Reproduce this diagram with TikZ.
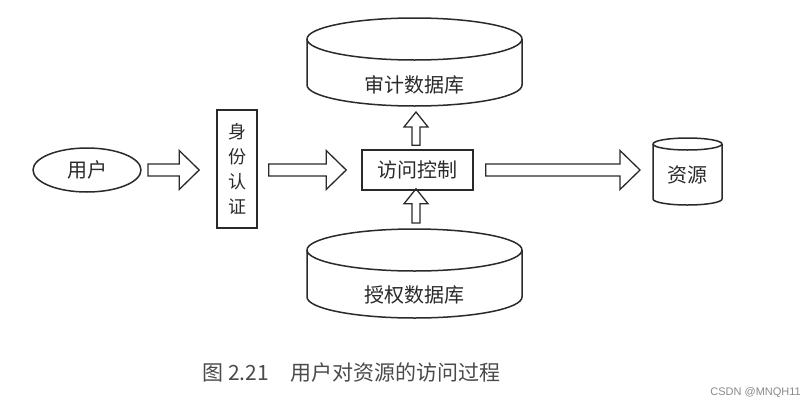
\documentclass[tikz,border=0pt]{standalone}
\usepackage{fontspec}
\newfontfamily\cjk{Noto Sans CJK SC}
\newfontfamily\wm{Liberation Sans}
\usetikzlibrary{calc}
\definecolor{ink}{HTML}{2A2A2A}
\definecolor{capgray}{HTML}{4A4A4A}
\definecolor{wmgray}{HTML}{8A8A8A}
\tikzset{
  line/.style={draw=ink, line width=1.5pt, line join=round},
  barrow/.style={draw=ink, line width=1.3pt, line join=miter},
  box/.style={draw=ink, line width=1.6pt, inner sep=0pt, text=ink, font=\cjk\fontsize{20}{24}\selectfont},
  lbl/.style={inner sep=0pt, text=ink, font=\cjk\fontsize{20}{24}\selectfont},
}
\newcommand\harr[2]{\draw[barrow] let \p1=(#1), \p2=(#2) in
  (\x1,\y1+6pt) -- (\x2-20pt,\y1+6pt) -- (\x2-20pt,\y1+19.5pt) -- (\x2,\y1)
  -- (\x2-20pt,\y1-19.5pt) -- (\x2-20pt,\y1-6pt) -- (\x1,\y1-6pt) -- cycle;}
\newcommand\varr[2]{\draw[barrow] let \p1=(#1), \p2=(#2) in
  (\x1+4pt,\y1) -- (\x1+4pt,\y2-15pt) -- (\x1+12pt,\y2-15pt) -- (\x1,\y2)
  -- (\x1-12pt,\y2-15pt) -- (\x1-4pt,\y2-15pt) -- (\x1-4pt,\y1) -- cycle;}
\begin{document}
\begin{tikzpicture}[x=1pt,y=-1pt]
\fill[white] (0,0) rectangle (808,410);
\useasboundingbox (0,0) rectangle (808,410);

% user ellipse
\draw[line] (87,170) ellipse [x radius=54pt, y radius=22pt];
\node[lbl] (user) at (87,170) {用户};
\coordinate (usere) at (141,170);

% identity authentication box
\node[box, minimum width=40pt, minimum height=118pt, align=center,
      font=\cjk\fontsize{18}{25}\selectfont] (auth) at (237,169) {身\\份\\认\\证};

% access control box
\node[box, minimum width=111pt, minimum height=40pt] (ac) at (417.5,170) {访问控制};

% audit database cylinder
\draw[line] (307,39) -- (307,85) arc[start angle=180, end angle=360, x radius=107.5pt, y radius=21pt] -- (522,39);
\draw[line] (414.5,39) ellipse [x radius=107.5pt, y radius=21pt];
\node[lbl] (audit) at (414.5,85) {审计数据库};
\coordinate (auditbot) at (416,106);

% authorization database cylinder
\draw[line] (307,250) -- (307,297) arc[start angle=180, end angle=360, x radius=107.5pt, y radius=21pt] -- (522,250);
\draw[line] (414.5,250) ellipse [x radius=107.5pt, y radius=21pt];
\node[lbl] (authz) at (414.5,295) {授权数据库};
\coordinate (authztop) at (416,229);

% resource cylinder
\draw[line] (653,144) -- (653,199) arc[start angle=180, end angle=360, x radius=34.5pt, y radius=6pt] -- (722,144);
\draw[line] (687.5,144) ellipse [x radius=34.5pt, y radius=6pt];
\node[lbl] (res) at (687.5,175) {资源};
\coordinate (resw) at (653,170);

% block arrows
\harr{$(usere)+(7,0)$}{$(auth.west)+(-17,0)$}
\harr{$(auth.east |- ac.east)+(11,0)$}{$(ac.west)+(-15,0)$}
\harr{$(ac.east)+(12,0)$}{$(resw)+(-13,0)$}
\varr{$(ac.north -| auditbot)+(0,-4)$}{$(auditbot)+(0,6)$}
\varr{$(authztop)+(0,-6)$}{$(ac.south -| authztop)+(0,-2)$}

% caption
\node[anchor=west, inner sep=0pt, text=capgray, font=\cjk\fontsize{21}{24}\selectfont] (cap) at (202,373)
  {图\hspace{5pt}2.21\hspace{22pt}用户对资源的访问过程};

% watermark
\node[anchor=east, inner sep=0pt, text=wmgray, font=\wm\fontsize{11}{13}\selectfont] (wmk) at (801,393) {CSDN @MNQH11};
\end{tikzpicture}
\end{document}
